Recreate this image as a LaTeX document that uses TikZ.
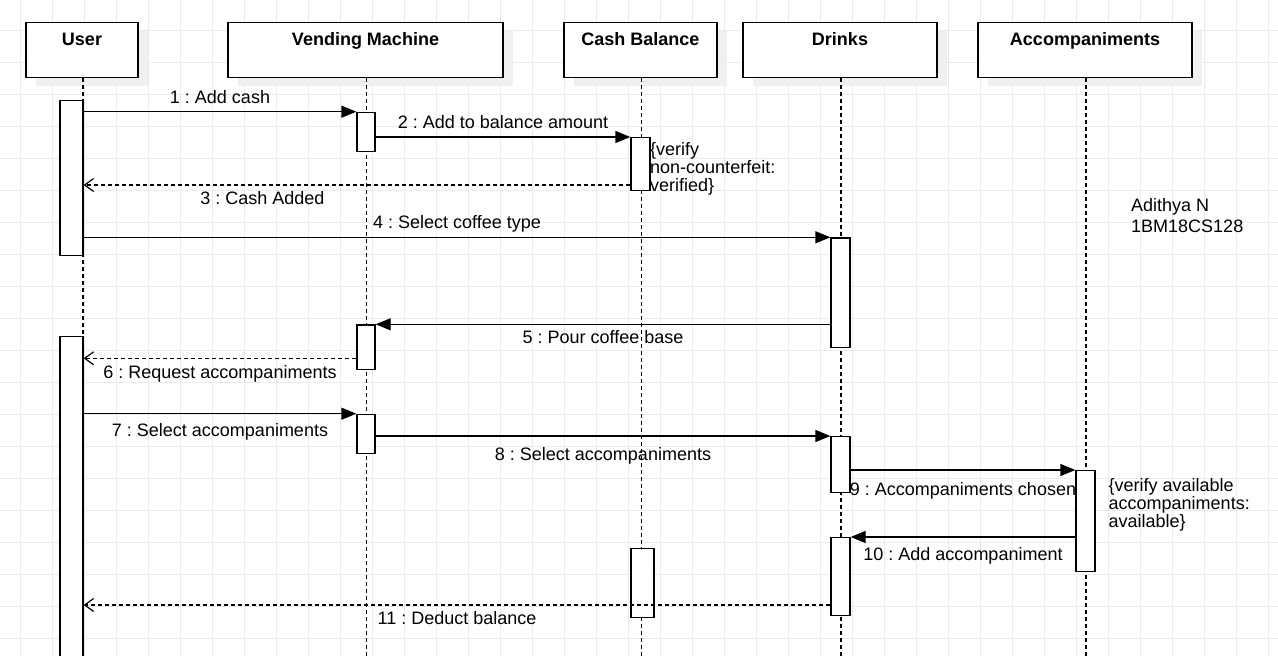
\documentclass[tikz,border=0pt]{standalone}
\usepackage{fontspec}
\setmainfont{Liberation Sans}
\usetikzlibrary{arrows.meta,calc,shadows}
\frenchspacing

\begin{document}
\begin{tikzpicture}[
    x=1pt, y=-1pt,
    font=\fontsize{18}{18}\selectfont,
    gridline/.style={draw=black!8, line width=1pt},
    head/.style={draw, fill=white, line width=1.5pt, anchor=north, inner ysep=0pt, text height=22.8pt, text depth=32.2pt,
        font=\fontsize{18}{18}\selectfont\bfseries,
        drop shadow={shadow xshift=10pt, shadow yshift=-9pt, fill=black!6, opacity=1}},
    lifeline/.style={line width=1.2pt, dash pattern=on 4pt off 3pt},
    bar/.style={draw, fill=white, line width=1.3pt, anchor=north, minimum width=19pt, inner sep=0pt},
    call/.style={line width=1.3pt, -{Triangle[length=15pt,width=12pt]}},
    reply/.style={line width=1.2pt, dash pattern=on 4pt off 3pt, -{Straight Barb[length=9pt,width=13pt]}},
    msg/.style={inner sep=0pt, text height=13pt, text depth=0pt},
    note/.style={anchor=north west, inner sep=0pt, align=left}
]
\useasboundingbox (0,0) rectangle (1278,656);
\fill[white] (0,0) rectangle (1278,656);
% background grid
\foreach \gx in {0,...,39} \draw[gridline] (20.5+32*\gx,0) -- (20.5+32*\gx,656);
\foreach \gy in {0,...,19} \draw[gridline] (0,30.5+32*\gy) -- (1278,30.5+32*\gy);

% objects
\node[head, minimum width=112pt] (user) at (82,21.7) {User};
\node[head, minimum width=275pt] (vm) at (365.5,21.7) {Vending Machine};
\node[head, minimum width=153pt] (cash) at (640.5,21.7) {Cash Balance};
\node[head, minimum width=194pt] (drinks) at (840,21.7) {Drinks};
\node[head, minimum width=214pt] (acc) at (1085,21.7) {Accompaniments};
\foreach \n in {user,vm,cash,drinks,acc}
    \draw[lifeline] ([xshift=1pt]\n.south) -- ([xshift=1pt]\n.south |- 0,656);

% activations
\node[bar, minimum width=23pt, minimum height=155pt] (u1) at (71.5,100) {};
\node[bar, minimum width=18pt, minimum height=39pt] (v1) at (366,111.7) {};
\node[bar, minimum height=53pt] (c1) at (640.5,137) {};
\node[bar, minimum height=109.4pt] (d1) at (840.5,237.3) {};
\node[bar, minimum width=18pt, minimum height=44.7pt] (v2) at (366,324.3) {};
\node[bar, minimum width=23pt, minimum height=330pt] (u2) at (71.5,335.7) {};
\node[bar, minimum width=18pt, minimum height=39.3pt] (v3) at (366,413.7) {};
\node[bar, minimum height=55.7pt] (d2) at (840.5,436) {};
\node[bar, minimum height=100.7pt] (a1) at (1085.5,470) {};
\node[bar, minimum height=78pt] (d3) at (840.5,537) {};
\node[bar, minimum width=23pt, minimum height=68.7pt] (c2) at (642.5,548) {};

% messages
\coordinate (r3) at ($(c1.south west)+(0,-6.3)$);
\coordinate (r6) at ($(v2.south west)+(0,-12)$);
\coordinate (r11) at ($(d3.south west)+(0,-11.3)$);
\draw[call] (u1.east |- v1.north) -- node[msg, yshift=15.2pt] {1 : Add cash} (v1.north west);
\draw[call] (v1.east |- c1.north) -- node[msg, yshift=15.2pt] {2 : Add to balance amount} (c1.north west);
\draw[reply] (r3) -- node[msg, pos=.673, yshift=-12.8pt] {3 : Cash Added} (u1.east |- r3);
\draw[call] (u1.east |- d1.north) -- node[msg, yshift=15.5pt] {4 : Select coffee type} (d1.north west);
\draw[call] (d1.west |- v2.north) -- node[msg, yshift=-12.5pt] {5 : Pour coffee base} (v2.north east);
\draw[reply] (r6) -- node[msg, yshift=-13.5pt] {6 : Request accompaniments} (u2.east |- r6);
\draw[call] (u2.east |- v3.north) -- node[msg, yshift=-15.8pt] {7 : Select accompaniments} (v3.north west);
\draw[call] (v3.east |- d2.north) -- node[msg, yshift=-18pt] {8 : Select accompaniments} (d2.north west);
\draw[call] (d2.east |- a1.north) -- node[msg, yshift=-18.5pt] {9 : Accompaniments chosen} (a1.north west);
\draw[call] (a1.west |- d3.north) -- node[msg, yshift=-16.5pt] {10 : Add accompaniment} (d3.north east);
\draw[reply] (r11) -- node[msg, yshift=-12.5pt] {11 : Deduct balance} (u2.east |- r11);

% constraints
\node[note] (cnote) at (650,142) {\{verify\\non-counterfeit:\\verified\}};
\node[note] (anote) at (1108.5,478.5) {\{verify available\\accompaniments:\\available\}};
\node[note, font=\fontsize{18}{21}\selectfont] (author) at (1131,198) {Adithya N\\1BM18CS128};
\end{tikzpicture}
\end{document}
